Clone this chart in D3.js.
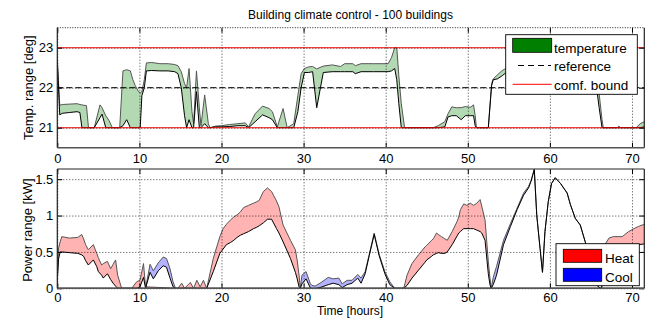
<!DOCTYPE html>
<html>
<head>
<meta charset="utf-8">
<script src="https://cdn.jsdelivr.net/npm/d3@7"></script>
<style>
  html, body { margin: 0; padding: 0; background: #fff; }
  svg { display: block; font-family: "Liberation Sans", Arial, sans-serif; }
</style>
</head>
<body>
<svg id="chart" width="667" height="322"></svg>
<script>
// ---------------- DATA ----------------
const chartTitle = "Building climate control - 100 buildings";
const xTicks = [0, 10, 20, 30, 40, 50, 60, 70];
const tempTicks = [21, 22, 23];
const powerTicks = [0, 0.5, 1, 1.5];
const powerTickLabels = ["0", "0.5", "1", "1.5"];
const comfortBounds = [21, 23];
const referenceTemp = 22;

// temperature band: time [h], lower, upper
const tempTime = [0.0,0.3,0.6,1.5,2.4,2.75,3.0,3.55,3.8,4.5,5.2,5.45,5.9,6.3,6.7,7.6,8.0,8.45,8.9,9.2,9.5,9.9,10.1,10.3,10.6,10.85,11.5,12.5,13.5,14.3,14.7,15.1,15.5,15.75,16.05,16.4,16.6,16.95,17.3,17.5,17.95,18.4,18.6,19.3,20.0,21.0,22.0,22.9,23.3,24.1,25.0,25.8,26.2,26.8,27.5,28.0,28.8,29.3,29.7,30.1,30.6,31.1,31.6,32.4,33.5,34.5,35.0,36.0,36.3,37.0,38.5,40.3,40.7,41.1,41.35,41.6,41.9,42.3,45.8,46.4,47.2,47.6,48.05,48.6,49.2,49.7,50.3,50.7,50.9,51.05,52.5,52.9,53.1,53.6,54.2,54.8,57.0,60.0,65.5,66.0,66.35,66.5,68.2,68.4,68.6,70.5,71.0,71.5];
const tempLow  = [22.65,21.32,21.36,21.38,21.40,21.38,21.0,21.0,21.0,21.0,21.25,21.34,21.0,21.0,21.0,21.0,21.05,21.2,21.0,21.0,21.0,21.0,21.0,21.8,22.0,22.42,22.43,22.42,22.42,22.4,22.35,22.0,21.3,21.0,21.2,21.0,21.0,21.9,21.0,21.0,21.1,21.0,21.0,21.02,21.02,21.03,21.05,21.05,21.0,21.15,21.32,21.25,21.2,21.0,21.0,21.0,21.0,21.4,22.0,22.38,22.38,22.4,21.5,22.38,22.4,22.4,22.4,22.4,22.35,22.4,22.4,22.4,22.42,22.48,22.2,21.6,21.0,21.0,21.0,21.0,21.02,21.27,21.3,21.3,21.2,21.3,21.3,21.3,21.05,21.0,21.0,22.05,22.2,22.22,22.3,22.4,22.45,22.45,22.3,21.5,21.0,21.0,21.0,21.0,21.0,21.0,21.0,21.02];
const tempHigh = [22.72,21.56,21.58,21.59,21.60,21.58,21.57,21.55,21.0,21.0,21.57,21.5,21.3,21.18,21.0,21.0,22.42,22.45,22.42,22.2,22.05,21.9,21.88,21.9,22.2,22.62,22.63,22.6,22.6,22.58,22.55,22.4,22.1,22.0,22.48,21.4,21.1,22.42,21.5,21.05,21.82,21.1,21.0,21.04,21.05,21.08,21.1,21.12,21.02,21.35,21.54,21.48,21.4,21.02,21.48,21.0,21.1,21.8,22.35,22.48,22.52,22.53,22.47,22.54,22.57,22.53,22.6,22.6,22.55,22.6,22.6,22.6,22.75,23.0,23.0,22.3,21.6,21.0,21.0,21.05,21.15,21.35,21.52,21.5,21.5,21.53,21.51,21.57,21.3,21.0,21.0,22.1,22.22,22.32,22.43,22.5,22.6,22.6,22.55,21.85,21.2,21.0,21.0,21.04,21.0,21.0,21.1,21.15];

// heating power band: time [h], lower, upper
const heatTime = [0.0,0.15,0.35,0.55,1.5,2.5,2.97,3.2,3.45,3.78,4.39,4.8,5.0,5.4,5.6,6.1,6.5,6.8,7.1,7.35,7.84,9.06,9.67,10.07,10.5,10.75,14.7,15.15,15.5,16.2,16.6,17.0,17.4,17.8,18.2,19.0,19.8,20.2,20.6,21.1,21.5,21.9,22.3,22.7,23.3,23.9,24.3,24.6,25.1,25.6,26.1,26.7,27.0,27.5,28.4,29.0,29.2,29.45,29.6,42.2,42.6,43.2,44.0,44.8,45.0,45.6,45.8,46.2,46.4,46.8,47.2,47.5,48.1,48.7,48.9,49.1,49.5,49.9,50.3,50.7,51.1,51.5,51.7,52.1,52.5,52.7,52.85,66.3,66.8,67.2,67.7,68.8,69.6,70.4,70.8,71.5];
const heatLow  = [0.1,0.4,0.5,0.5,0.49,0.48,0.46,0.44,0.38,0.32,0.39,0.3,0.23,0.18,0.14,0.2,0.12,0.07,0.03,0.0,0,0,0,0.02,0.15,0,0,0,0,0,0,0,0,0,0,0.23,0.48,0.54,0.6,0.63,0.66,0.7,0.73,0.75,0.78,0.82,0.84,0.86,0.9,0.95,0.95,0.82,0.76,0.64,0.41,0.22,0.14,0.02,0,0,0.04,0.14,0.25,0.36,0.39,0.44,0.46,0.48,0.49,0.48,0.48,0.5,0.6,0.72,0.76,0.78,0.82,0.82,0.82,0.82,0.8,0.78,0.76,0.66,0.2,0.05,0,0,0.5,0.55,0.56,0.57,0.58,0.6,0.6,0.61];
const heatHigh = [0.12,0.55,0.64,0.71,0.69,0.7,0.74,0.68,0.6,0.53,0.6,0.48,0.42,0.32,0.34,0.37,0.27,0.33,0.39,0.18,0,0,0.09,0.11,0.34,0.02,0,0.07,0,0.08,0,0.11,0.02,0.11,0,0.41,0.71,0.82,0.88,0.94,0.98,1.01,1.05,1.11,1.14,1.17,1.19,1.21,1.33,1.38,1.33,1.2,1.12,0.87,0.66,0.53,0.4,0.18,0,0,0.18,0.34,0.46,0.57,0.59,0.66,0.68,0.76,0.74,0.71,0.68,0.66,0.78,0.92,0.98,1.08,1.16,1.14,1.17,1.14,1.17,1.22,1.13,0.94,0.37,0.14,0,0,0.62,0.69,0.71,0.71,0.78,0.83,0.85,0.88];

// cooling power band: time [h], lower, upper
const coolTime = [0,10.75,11.3,11.7,12.3,12.9,13.3,13.7,14.1,14.4,29.6,29.8,30.3,30.8,31.0,31.4,32.0,33.0,33.6,34.3,34.7,35.3,35.9,36.6,37.0,37.5,38.0,38.6,39.2,39.9,40.5,41.1,52.85,53.1,53.5,54.35,55.2,56.0,56.8,57.4,57.7,58.1,58.4,58.8,59.1,59.4,59.8,60.2,60.65,61.3,62.1,62.5,63.1,63.7,64.3,65.0,65.9,66.2,71.5];
const coolLow  = [0,0,0.22,0.13,0.24,0.31,0.29,0.15,0.02,0,0,0.06,0.13,0.01,0,0,0.01,0.05,0.07,0.05,0.01,0.05,0.07,0.14,0.07,0.2,0.45,0.74,0.45,0.2,0.05,0,0,0.05,0.18,0.6,0.85,1.08,1.28,1.38,1.47,1.63,1.0,0.55,0.22,0.78,1.19,1.44,1.52,1.44,1.31,1.15,0.96,0.87,0.64,0.35,0.02,0,0];
const coolHigh = [0,0,0.33,0.24,0.35,0.43,0.41,0.28,0.09,0,0,0.18,0.23,0.07,0.04,0.03,0.07,0.15,0.13,0.14,0.06,0.11,0.11,0.19,0.14,0.23,0.47,0.76,0.47,0.23,0.09,0,0,0.15,0.3,0.66,0.89,1.1,1.31,1.40,1.48,1.64,1.01,0.55,0.22,0.78,1.19,1.44,1.52,1.44,1.31,1.15,0.96,0.87,0.64,0.35,0.02,0,0];

const tempLegend = ["temperature", "reference", "comf. bound"];
const powerLegend = ["Heat", "Cool"];
const xLabel = "Time [hours]";
const tempLabel = "Temp. range [deg]";
const powerLabel = "Power range [kW]";

// ---------------- LAYOUT ----------------
const svg = d3.select("#chart");
const L = 57.3, R = 644.3;
const top1 = 27.7, bot1 = 147.7;
const top2 = 169, bot2 = 288.3;

const x = d3.scaleLinear().domain([0, 71.5]).range([L, R]);
const yT = d3.scaleLinear().domain([20.5, 23.5]).range([bot1, top1]);
const yP = d3.scaleLinear().domain([0, 1.64]).range([bot2, top2]);

const defs = svg.append("defs");
defs.append("clipPath").attr("id", "clip1").append("rect")
  .attr("x", L).attr("y", top1).attr("width", R - L).attr("height", bot1 - top1);
defs.append("clipPath").attr("id", "clip2").append("rect")
  .attr("x", L).attr("y", top2 - 1).attr("width", R - L).attr("height", bot2 - top2 + 1);

const GREEN_FILL = "#b3d9b3", RED_FILL = "#ffb3b3", BLUE_FILL = "#b3b3ff";

function band(g, times, lo, hi, y, fill) {
  const pts = times.map((t, i) => ({ t, lo: lo[i], hi: hi[i] }));
  g.append("path").datum(pts)
    .attr("d", d3.area().x(d => x(d.t)).y0(d => y(d.lo)).y1(d => y(d.hi)))
    .attr("fill", fill).attr("stroke", "none");
  g.append("path").datum(pts)
    .attr("d", d3.line().x(d => x(d.t)).y(d => y(d.hi)))
    .attr("fill", "none").attr("stroke", "#555").attr("stroke-width", 1);
  g.append("path").datum(pts)
    .attr("d", d3.line().x(d => x(d.t)).y(d => y(d.lo)))
    .attr("fill", "none").attr("stroke", "#000").attr("stroke-width", 1);
}

function gridAndAxes(yScale, yTicks, top, bot) {
  const grid = svg.append("g");
  grid.append("g").attr("transform", `translate(0,${bot})`)
    .call(d3.axisBottom(x).tickValues(xTicks).tickSize(-(bot - top)).tickFormat(""))
    .call(g => g.select(".domain").remove())
    .call(g => g.selectAll("line").attr("stroke", "#000").attr("stroke-dasharray", "1,2").attr("stroke-opacity", 0.75));
  grid.append("g").attr("transform", `translate(${L},0)`)
    .call(d3.axisLeft(yScale).tickValues(yTicks).tickSize(-(R - L)).tickFormat(""))
    .call(g => g.select(".domain").remove())
    .call(g => g.selectAll("line").attr("stroke", "#000").attr("stroke-dasharray", "1,2").attr("stroke-opacity", 0.75));
}

function frame(yScale, yTicks, yFmt, top, bot, xPad, topDotted) {
  const ax = svg.append("g").attr("class", "axes");
  const fs = "13px";
  ax.append("g").attr("transform", `translate(0,${bot})`)
    .call(d3.axisBottom(x).tickValues(xTicks).tickSize(-5).tickPadding(xPad).tickFormat(d3.format("d")))
    .call(g => g.select(".domain").remove())
    .call(g => g.selectAll("line").attr("stroke", "#000"))
    .call(g => g.selectAll("text").attr("fill", "#000").style("font-size", fs).style("font-family", "Liberation Sans, Arial, sans-serif"));
  ax.append("g").attr("transform", `translate(0,${top})`)
    .call(d3.axisTop(x).tickValues(xTicks).tickSize(-5).tickFormat(""))
    .call(g => g.select(".domain").remove())
    .call(g => g.selectAll("line").attr("stroke", "#000"));
  ax.append("g").attr("transform", `translate(${L},0)`)
    .call(d3.axisLeft(yScale).tickValues(yTicks).tickSize(-5).tickPadding(4).tickFormat(yFmt))
    .call(g => g.select(".domain").remove())
    .call(g => g.selectAll("line").attr("stroke", "#000"))
    .call(g => g.selectAll("text").attr("fill", "#000").style("font-size", fs).style("font-family", "Liberation Sans, Arial, sans-serif"));
  ax.append("g").attr("transform", `translate(${R},0)`)
    .call(d3.axisRight(yScale).tickValues(yTicks).tickSize(-5).tickFormat(""))
    .call(g => g.select(".domain").remove())
    .call(g => g.selectAll("line").attr("stroke", "#000"));
  ax.append("line").attr("x1", L).attr("x2", L).attr("y1", top).attr("y2", bot).attr("stroke", "#222").attr("stroke-width", 1.2);
  ax.append("line").attr("x1", R).attr("x2", R).attr("y1", top).attr("y2", bot).attr("stroke", "#222").attr("stroke-width", 1.2);
  ax.append("line").attr("x1", L).attr("x2", R).attr("y1", bot).attr("y2", bot).attr("stroke", "#555").attr("stroke-width", 1.6);
  const tl = ax.append("line").attr("x1", L).attr("x2", R).attr("y1", top).attr("y2", top).attr("stroke", "#222").attr("stroke-width", 1);
  if (topDotted) tl.attr("stroke-dasharray", "1,1.5");
}

// ---------------- TOP PLOT ----------------
const g1 = svg.append("g").attr("clip-path", "url(#clip1)");
band(g1, tempTime, tempLow, tempHigh, yT, GREEN_FILL);
g1.selectAll("line.bound").data(comfortBounds).enter().append("line")
  .attr("class", "bound").attr("x1", L).attr("x2", R)
  .attr("y1", d => yT(d)).attr("y2", d => yT(d))
  .attr("stroke", "#ff0000").attr("stroke-width", 1.1);
g1.append("line").attr("x1", L).attr("x2", R)
  .attr("y1", yT(referenceTemp)).attr("y2", yT(referenceTemp))
  .attr("stroke", "#000").attr("stroke-width", 1).attr("stroke-dasharray", "6,3");
gridAndAxes(yT, tempTicks, top1, bot1);
frame(yT, tempTicks, d3.format("d"), top1, bot1, 6, true);

// ---------------- BOTTOM PLOT ----------------
const g2 = svg.append("g").attr("clip-path", "url(#clip2)");
band(g2, heatTime, heatLow, heatHigh, yP, RED_FILL);
band(g2, coolTime, coolLow, coolHigh, yP, BLUE_FILL);
gridAndAxes(yP, powerTicks, top2, bot2);
frame(yP, powerTicks, d => powerTickLabels[powerTicks.indexOf(d)], top2, bot2, 4, false);

// ---------------- TEXT ----------------
svg.append("text").attr("x", 350.5).attr("y", 18.6).attr("text-anchor", "middle")
  .style("font-size", "12px").attr("fill", "#000").text(chartTitle);
svg.append("text").attr("x", 350).attr("y", 314.5).attr("text-anchor", "middle")
  .style("font-size", "12px").attr("fill", "#000").text(xLabel);
svg.append("text").attr("transform", `translate(32.5,${(top1 + bot1) / 2}) rotate(-90)`)
  .attr("text-anchor", "middle").style("font-size", "13px").attr("fill", "#000").text(tempLabel);
svg.append("text").attr("transform", `translate(32,${(top2 + bot2) / 2 + 1.5}) rotate(-90)`)
  .attr("text-anchor", "middle").style("font-size", "13px").attr("fill", "#000").text(powerLabel);

// ---------------- LEGENDS ----------------
const lg1 = svg.append("g");
lg1.append("rect").attr("x", 505.7).attr("y", 34.7).attr("width", 131.6).attr("height", 59.6)
  .attr("fill", "#fff").attr("stroke", "#000").attr("stroke-width", 0.9);
lg1.append("rect").attr("x", 512.7).attr("y", 38.3).attr("width", 39).attr("height", 14)
  .attr("fill", "#007f00").attr("stroke", "#000").attr("stroke-width", 0.8);
lg1.append("line").attr("x1", 518).attr("x2", 551).attr("y1", 65.5).attr("y2", 65.5)
  .attr("stroke", "#000").attr("stroke-dasharray", "6,4");
lg1.append("line").attr("x1", 512.7).attr("x2", 551.7).attr("y1", 84.3).attr("y2", 84.3)
  .attr("stroke", "#ff0000").attr("stroke-width", 1);
const lgY1 = [52.5, 71, 90];
lg1.selectAll("text").data(tempLegend).enter().append("text")
  .attr("x", 554).attr("y", (d, i) => lgY1[i])
  .style("font-size", "13.5px").attr("fill", "#000").text(d => d);

const lg2 = svg.append("g");
lg2.append("rect").attr("x", 556).attr("y", 243.7).attr("width", 83.3).attr("height", 42)
  .attr("fill", "#fff").attr("stroke", "#000").attr("stroke-width", 0.9);
const lgCols = ["#ff0000", "#0000ff"];
const lgY2 = [249.3, 268.3];
powerLegend.forEach((name, i) => {
  lg2.append("rect").attr("x", 563.3).attr("y", lgY2[i]).attr("width", 38.4).attr("height", 13)
    .attr("fill", lgCols[i]).attr("stroke", "#000").attr("stroke-width", 0.8);
  lg2.append("text").attr("x", 605).attr("y", lgY2[i] + 13.2)
    .style("font-size", "13.5px").attr("fill", "#000").text(name);
});
</script>
</body>
</html>
